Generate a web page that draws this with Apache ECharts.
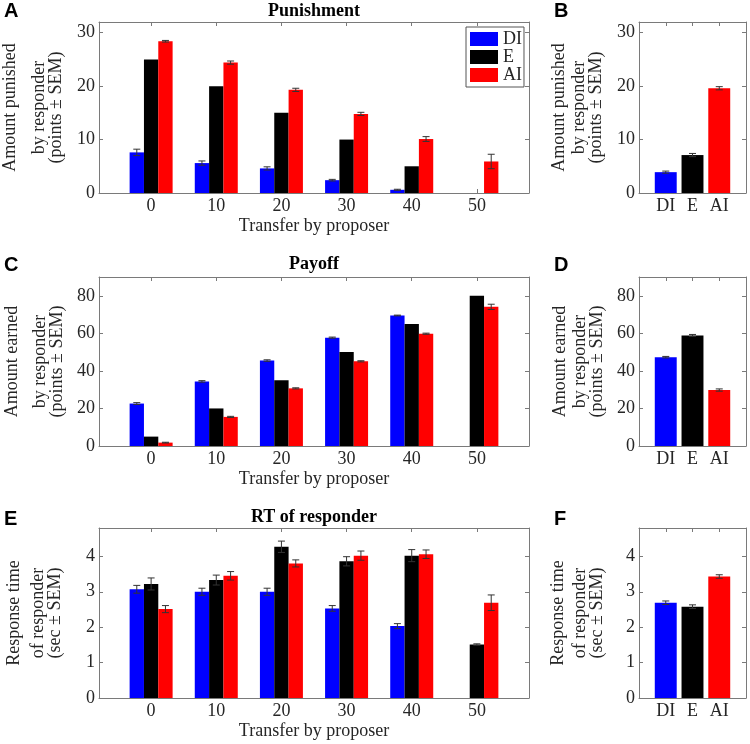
<!DOCTYPE html>
<html><head><meta charset="utf-8">
<script src="https://cdn.jsdelivr.net/npm/echarts@6/dist/echarts.min.js"></script>
<style>html,body{margin:0;padding:0;background:#fff}#c{width:750px;height:744px}</style>
</head><body><div id="c"></div>
<script>
// ---------- data ----------
const transfers = [0, 10, 20, 30, 40, 50];
const groups = ['DI', 'E', 'AI'];

// A: Punishment by transfer
const punishDI    = [7.6, 5.6, 4.6, 2.4, 0.6, null];
const punishDIErr = [0.6, 0.4, 0.3, 0.15, 0.1, null];
const punishE     = [25, 20, 15, 10, 5, null];
const punishEErr  = [0, 0, 0, 0, 0, null];
const punishAI    = [28.4, 24.4, 19.3, 14.8, 10.1, 5.9];
const punishAIErr = [0.15, 0.3, 0.3, 0.3, 0.45, 1.35];
// B: Punishment average
const punishAvg    = [3.9, 7.1, 19.6];
const punishAvgErr = [0.2, 0.3, 0.3];

// C: Payoff by transfer
const payoffDI    = [22.6, 34.4, 45.5, 57.7, 69.5, null];
const payoffDIErr = [0.5, 0.4, 0.4, 0.3, 0.2, null];
const payoffE     = [5, 20, 35, 50, 65, 80];
const payoffEErr  = [0, 0, 0, 0, 0, 0];
const payoffAI    = [1.8, 15.5, 30.7, 45.1, 59.8, 74.1];
const payoffAIErr = [0.2, 0.3, 0.3, 0.3, 0.3, 1.4];
// D: Payoff average
const payoffAvg    = [47.3, 58.9, 29.8];
const payoffAvgErr = [0.4, 0.5, 0.6];

// E: RT by transfer
const rtDI    = [3.07, 3.0, 3.0, 2.53, 2.03, null];
const rtDIErr = [0.11, 0.1, 0.1, 0.08, 0.07, null];
const rtE     = [3.22, 3.33, 4.27, 3.86, 4.02, 1.51];
const rtEErr  = [0.17, 0.14, 0.16, 0.13, 0.17, 0.02];
const rtAI    = [2.51, 3.45, 3.8, 4.02, 4.06, 2.69];
const rtAIErr = [0.1, 0.12, 0.1, 0.13, 0.12, 0.22];
// F: RT average
const rtAvg    = [2.69, 2.58, 3.43];
const rtAvgErr = [0.05, 0.05, 0.05];

const yTicksPunish = [0, 10, 20, 30];
const yTicksPayoff = [0, 20, 40, 60, 80];
const yTicksRT     = [0, 1, 2, 3, 4];
const avgPositions = [1, 2, 3];

const xName = 'Transfer by proposer';
const titles = ['Punishment', 'Payoff', 'RT of responder'];
const yNames = [
  ['Amount punished', 'by responder', '(points \u00b1 SEM)'],
  ['Amount earned', 'by responder', '(points \u00b1 SEM)'],
  ['Response time', 'of responder', '(sec \u00b1 SEM)']
];
const letters = ['A', 'B', 'C', 'D', 'E', 'F'];

// ---------- style ----------
const FONT = 'Liberation Serif';
const colors = ['#0000ff', '#000000', '#ff0000'];
const axisColor = '#7a7a7a';
const textColor = '#262626';
const errColor = '#333333';

const rows = [
  {top: 22, height: 171, ymax: 32, yTicks: yTicksPunish, l1: [40, 24], gap: [34.5, 34], titleGap: 2},
  {top: 277, height: 169, ymax: 90, yTicks: yTicksPayoff, l1: [39, 23], gap: [33.5, 33.5], titleGap: 4},
  {top: 528, height: 170, ymax: 4.8, yTicks: yTicksRT, l1: [32, 26], gap: [35, 33.5], titleGap: 1.5}
];
const cols = [
  {left: 99, width: 430, xmin: -8, xmax: 58},
  {left: 639, width: 107, xmin: 0, xmax: 4}
];

const byTransfer = [
  [[punishDI, punishDIErr], [punishE, punishEErr], [punishAI, punishAIErr]],
  [[payoffDI, payoffDIErr], [payoffE, payoffEErr], [payoffAI, payoffAIErr]],
  [[rtDI, rtDIErr], [rtE, rtEErr], [rtAI, rtAIErr]]
];
const averages = [[punishAvg, punishAvgErr], [payoffAvg, payoffAvgErr], [rtAvg, rtAvgErr]];

const groupBarW = 2.2;   // data units on transfer axis
const avgBarW = 0.82;    // data units on group axis
const capHalf = 3.5;

function makeRenderer(offset, width, colorFn) {
  return function (params, api) {
    const x = api.value(0) + offset;
    const y = api.value(1);
    const e = api.value(2);
    const lb = api.coord([x - width / 2, 0]);
    const rt = api.coord([x + width / 2, y]);
    const fill = colorFn ? colorFn(params.dataIndex) : api.visual('color');
    const children = [{
      type: 'rect',
      shape: {x: lb[0], y: rt[1], width: rt[0] - lb[0], height: lb[1] - rt[1]},
      style: {fill: fill}
    }];
    if (e > 0) {
      const t = api.coord([x, y + e]);
      const b = api.coord([x, y - e]);
      const cx = t[0];
      const st = {stroke: errColor, lineWidth: 1};
      children.push({type: 'line', shape: {x1: cx, y1: t[1], x2: cx, y2: b[1]}, style: st});
      children.push({type: 'line', shape: {x1: cx - capHalf, y1: t[1], x2: cx + capHalf, y2: t[1]}, style: st});
      children.push({type: 'line', shape: {x1: cx - capHalf, y1: b[1], x2: cx + capHalf, y2: b[1]}, style: st});
    }
    return {type: 'group', children: children};
  };
}

const grids = [], xAxes = [], yAxes = [], series = [];
const labelStyle = {fontFamily: FONT, fontSize: 18, color: textColor};

rows.forEach(function (row, r) {
  cols.forEach(function (col, c) {
    const gi = grids.length;
    grids.push({left: col.left, top: row.top, width: col.width, height: row.height,
      containLabel: false, outerBoundsMode: 'none'});
    const xVals = c === 0 ? transfers : avgPositions;
    const xFmt = c === 0 ? function (v) { return String(v); } : function (v) { return groups[Math.round(v) - 1]; };
    const baseX = {
      gridIndex: gi, type: 'value', min: col.xmin, max: col.xmax,
      axisLine: {show: true, onZero: false, lineStyle: {color: axisColor, width: 1}},
      axisTick: {show: true, inside: true, length: 4, customValues: xVals, lineStyle: {color: axisColor}},
      splitLine: {show: false}
    };
    xAxes.push(Object.assign({}, baseX, {
      position: 'bottom',
      axisLabel: Object.assign({show: true, margin: 4, customValues: xVals, formatter: xFmt, lineHeight: 18}, labelStyle),
      name: c === 0 ? xName : '', nameLocation: 'middle', nameGap: 24,
      nameTextStyle: Object.assign({lineHeight: 18}, labelStyle)
    }));
    xAxes.push(Object.assign({}, baseX, {
      position: 'top', axisLabel: {show: false},
      name: c === 0 ? titles[r] : '', nameLocation: 'middle', nameGap: row.titleGap,
      nameTextStyle: {fontFamily: FONT, fontSize: 18, fontWeight: 'bold', color: '#000', lineHeight: 18}
    }));
    const yi = yAxes.length;
    const baseY = {
      gridIndex: gi, type: 'value', min: 0, max: row.ymax,
      axisLine: {show: true, onZero: false, lineStyle: {color: axisColor, width: 1}},
      axisTick: {show: true, inside: true, length: 4, customValues: row.yTicks, lineStyle: {color: axisColor}},
      splitLine: {show: false}
    };
    const nm = yNames[r];
    yAxes.push(Object.assign({}, baseY, {
      position: 'left',
      axisLabel: Object.assign({show: true, margin: 4, customValues: row.yTicks}, labelStyle),
      name: '{a|' + nm[0] + '}\n{b|' + nm[1] + '}\n{b|' + nm[2] + '}',
      nameLocation: 'middle', nameRotate: 90, nameGap: row.gap[c],
      nameTextStyle: Object.assign({}, labelStyle, {
        rich: {
          a: {fontFamily: FONT, fontSize: 18, color: textColor, lineHeight: row.l1[c]},
          b: {fontFamily: FONT, fontSize: 18, color: textColor, lineHeight: 17}
        }
      })
    }));
    yAxes.push(Object.assign({}, baseY, {position: 'right', axisLabel: {show: false}}));
    const xi = xAxes.length - 2;

    if (c === 0) {
      byTransfer[r].forEach(function (pair, g) {
        const vals = pair[0], errs = pair[1];
        const data = transfers.map(function (t, i) { return [t, vals[i], errs[i]]; })
          .filter(function (d) { return d[1] != null; });
        series.push({
          type: 'custom', name: groups[g], xAxisIndex: xi, yAxisIndex: yi,
          itemStyle: {color: colors[g]},
          encode: {x: 0, y: 1},
          renderItem: makeRenderer((g - 1) * groupBarW, groupBarW, null),
          data: data, silent: true
        });
      });
    } else {
      const vals = averages[r][0], errs = averages[r][1];
      series.push({
        type: 'custom', name: 'avg' + r, xAxisIndex: xi, yAxisIndex: yi,
        encode: {x: 0, y: 1},
        renderItem: makeRenderer(0, avgBarW, function (i) { return colors[i]; }),
        data: avgPositions.map(function (p, i) { return [p, vals[i], errs[i]]; }),
        silent: true
      });
    }
  });
});

const letterPos = [[4, 1], [554, 1], [4, 255], [554, 255], [4, 509], [554, 509]];
const titleComps = letters.map(function (L, i) {
  return {text: L, left: letterPos[i][0], top: letterPos[i][1], padding: 0,
    textStyle: {fontFamily: 'Liberation Sans', fontWeight: 'bold', fontSize: 20, color: '#000'}};
});

const chart = echarts.init(document.getElementById('c'), null, {renderer: 'canvas'});
chart.setOption({
  animation: false,
  backgroundColor: '#fff',
  title: titleComps,
  legend: {
    data: groups.map(function (g, i) { return {name: g, icon: 'rect', itemStyle: {color: colors[i]}}; }),
    orient: 'vertical', left: 466, top: 27,
    padding: [3, 2, 3, 4], itemWidth: 28, itemHeight: 14, itemGap: 0,
    borderColor: '#555', borderWidth: 1, backgroundColor: '#fff',
    textStyle: {fontFamily: FONT, fontSize: 18, color: textColor, lineHeight: 16},
    selectedMode: false
  },
  grid: grids,
  xAxis: xAxes,
  yAxis: yAxes,
  series: series
});
</script>
</body></html>
